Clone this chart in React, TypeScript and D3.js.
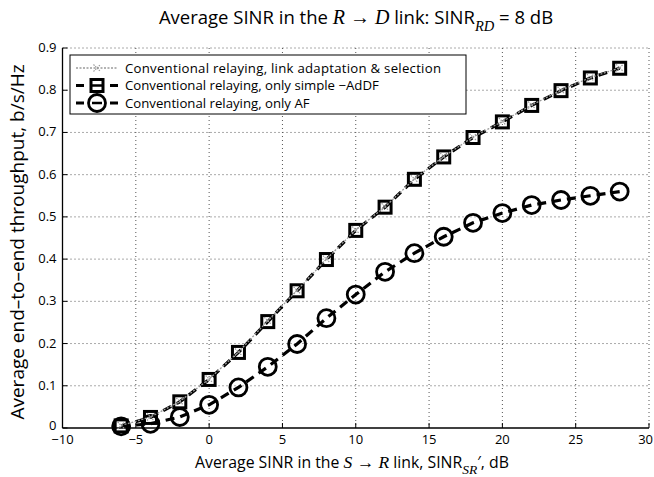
import React from "react";
import * as d3 from "d3";

const snrSR = [-6, -4, -2, 0, 2, 4, 6, 8, 10, 12, 14, 16, 18, 20, 22, 24, 26, 28];
const adaptSel = [0.006, 0.026, 0.063, 0.116, 0.18, 0.254, 0.326, 0.4, 0.469, 0.524, 0.59, 0.643, 0.689, 0.726, 0.765, 0.8, 0.83, 0.853];
const adDF = [0.005, 0.025, 0.062, 0.115, 0.179, 0.252, 0.325, 0.399, 0.468, 0.523, 0.589, 0.642, 0.688, 0.725, 0.764, 0.799, 0.829, 0.852];
const af = [0.004, 0.01, 0.026, 0.055, 0.096, 0.145, 0.199, 0.26, 0.316, 0.37, 0.414, 0.453, 0.486, 0.509, 0.528, 0.54, 0.55, 0.56];
const xTicks = [-10, -5, 0, 5, 10, 15, 20, 25, 30];
const yTicks = [0, 0.1, 0.2, 0.3, 0.4, 0.5, 0.6, 0.7, 0.8, 0.9];
const legendLabels = [
  "Conventional relaying, link adaptation & selection",
  "Conventional relaying, only simple \u2212AdDF",
  "Conventional relaying, only AF",
];

const W = 654, H = 477;
const L = 62.5, R = 649, T = 48, B = 428;
const FONT = "'Open Sans', 'Noto Sans', sans-serif";
const SERIF = "'Liberation Serif', 'DejaVu Serif', serif";

export default function App() {
  const x = d3.scaleLinear().domain([-10, 30]).range([L, R]);
  const y = d3.scaleLinear().domain([0, 0.9]).range([B, T]);
  const line = (vals: number[]) =>
    d3.line<number>().x((_, i) => x(snrSR[i])).y((v) => y(v))(vals) || "";

  const xMark = (cx: number, cy: number, s: number, key: string) => (
    <g key={key} stroke="#9a9a9a" strokeWidth={1.2} strokeDasharray="1.5,1">
      <line x1={cx - s} y1={cy - s} x2={cx + s} y2={cy + s} />
      <line x1={cx - s} y1={cy + s} x2={cx + s} y2={cy - s} />
    </g>
  );

  const sq = 12;
  const cr = 8.5;
  const lx0 = 76, lx1 = 118, lmid = 97, ltext = 125;
  const rows = [68, 85.5, 103];

  return (
    <svg width={W} height={H} style={{ display: "block", position: "absolute", left: 0, top: 0 }}>
      <rect width={W} height={H} fill="#fff" />
      {/* grid */}
      <g stroke="#555" strokeWidth={1} strokeDasharray="1,3">
        {xTicks.slice(1).map((t) => (
          <line key={"gx" + t} x1={x(t)} x2={x(t)} y1={T} y2={B} />
        ))}
        {yTicks.slice(1).map((t) => (
          <line key={"gy" + t} x1={L} x2={R} y1={y(t)} y2={y(t)} />
        ))}
      </g>
      {/* ticks */}
      <g stroke="#000" strokeWidth={1}>
        {xTicks.map((t) => (
          <line key={"tx" + t} x1={x(t)} x2={x(t)} y1={B} y2={B - 5} />
        ))}
        {yTicks.map((t) => (
          <line key={"ty" + t} x1={L} x2={L + 5} y1={y(t)} y2={y(t)} />
        ))}
      </g>
      {/* axes */}
      <line x1={L} x2={L} y1={T} y2={B} stroke="#000" strokeWidth={1.3} />
      <line x1={L} x2={R} y1={B} y2={B} stroke="#000" strokeWidth={1.3} />
      {/* tick labels */}
      <g fontFamily={FONT} fontSize={13} fill="#000">
        {xTicks.map((t, i) => (
          <text
            key={"lx" + t}
            x={i === xTicks.length - 1 ? W - 1 : x(t)}
            y={B + 16}
            textAnchor={i === xTicks.length - 1 ? "end" : "middle"}
          >
            {t < 0 ? "\u2212" + Math.abs(t) : t}
          </text>
        ))}
        {yTicks.map((t) => (
          <text key={"ly" + t} x={L - 6} y={y(t) + (t === 0 ? 2 : 4)} textAnchor="end">
            {t === 0 ? "0" : d3.format(".1f")(t)}
          </text>
        ))}
      </g>
      {/* AF series */}
      <path d={line(af)} fill="none" stroke="#000" strokeWidth={3.2} strokeDasharray="9,6" />
      {af.map((v, i) => (
        <circle key={"c" + i} cx={x(snrSR[i])} cy={y(v)} r={cr} fill="none" stroke="#000" strokeWidth={2.8} />
      ))}
      {/* AdDF series */}
      <path d={line(adDF)} fill="none" stroke="#000" strokeWidth={3.2} strokeDasharray="9,6" />
      {adDF.map((v, i) => (
        <rect key={"s" + i} x={x(snrSR[i]) - sq / 2} y={y(v) - sq / 2} width={sq} height={sq} fill="none" stroke="#000" strokeWidth={3} />
      ))}
      {/* adaptation & selection series */}
      <path d={line(adaptSel)} fill="none" stroke="#9a9a9a" strokeWidth={1.3} strokeDasharray="2,1.5" />
      {adaptSel.map((v, i) => xMark(x(snrSR[i]), y(v), 3.5, "x" + i))}
      {/* legend */}
      <rect x={70} y={55} width={396} height={59} fill="#fff" stroke="#000" strokeWidth={1} />
      <g>
        <line x1={lx0} x2={lx1} y1={rows[0]} y2={rows[0]} stroke="#9a9a9a" strokeWidth={1.3} strokeDasharray="2,1.5" />
        {xMark(lmid, rows[0], 3.5, "lx")}
        <line x1={lx0} x2={lx1} y1={rows[1]} y2={rows[1]} stroke="#000" strokeWidth={3.2} strokeDasharray="8,26" />
        <rect x={lmid - sq / 2} y={rows[1] - sq / 2} width={sq} height={sq} fill="none" stroke="#000" strokeWidth={3} />
        <line x1={lmid - 5} x2={lmid + 5} y1={rows[1]} y2={rows[1]} stroke="#000" strokeWidth={2.5} />
        <line x1={lx0} x2={lx1} y1={rows[2]} y2={rows[2]} stroke="#000" strokeWidth={3.2} strokeDasharray="8,26" />
        <circle cx={lmid} cy={rows[2]} r={cr} fill="none" stroke="#000" strokeWidth={2.8} />
        <line x1={lmid - 5} x2={lmid + 5} y1={rows[2]} y2={rows[2]} stroke="#000" strokeWidth={2.5} />
      </g>
      <g fontFamily={FONT} fontSize={13.2} fill="#000">
        {legendLabels.map((s, i) => (
          <text key={"lg" + i} x={ltext} y={rows[i] + 4.5} textLength={i === 0 ? 316 : undefined}>{s}</text>
        ))}
      </g>
      {/* title */}
      <text x={356} y={24} textAnchor="middle" fontFamily={FONT} fontSize={18.5} fill="#000">
        Average SINR in the{" "}
        <tspan fontFamily={SERIF} fontStyle="italic" fontSize={20}>R</tspan>
        <tspan fontFamily={SERIF} fontSize={20}> {"\u2192"} </tspan>
        <tspan fontFamily={SERIF} fontStyle="italic" fontSize={20}>D</tspan>
        <tspan> link: SINR</tspan>
        <tspan fontFamily={SERIF} fontStyle="italic" fontSize={14.5} dy={7}>RD</tspan>
        <tspan dy={-7}> = 8 dB</tspan>
      </text>
      {/* x label */}
      <text x={352} y={468} textAnchor="middle" fontFamily={FONT} fontSize={15.8} fill="#000">
        Average SINR in the{" "}
        <tspan fontFamily={SERIF} fontStyle="italic" fontSize={17.5}>S</tspan>
        <tspan fontFamily={SERIF} fontSize={17.5}> {"\u2192"} </tspan>
        <tspan fontFamily={SERIF} fontStyle="italic" fontSize={17.5}>R</tspan>
        <tspan> link, SINR</tspan>
        <tspan fontFamily={SERIF} fontStyle="italic" fontSize={13.5} dy={6}>SR</tspan>
        <tspan dy={-6}>{"\u2032"}, dB</tspan>
      </text>
      {/* y label */}
      <text
        transform={`translate(24,${(T + B) / 2 + 4}) rotate(-90)`}
        textAnchor="middle"
        fontFamily={FONT}
        fontSize={19}
        fill="#000"
      >
        Average end{"\u2013"}to{"\u2013"}end throughput, b/s/Hz
      </text>
    </svg>
  );
}
